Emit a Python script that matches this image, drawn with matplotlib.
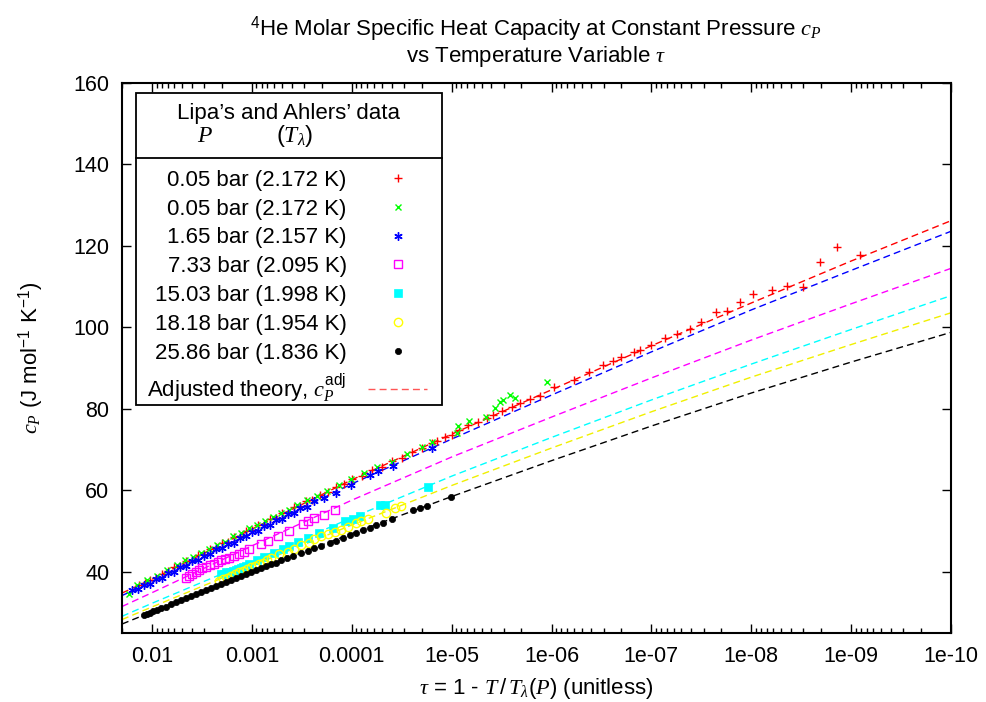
import numpy as np
import matplotlib.pyplot as plt
from matplotlib.lines import Line2D
from matplotlib.patches import Rectangle
from matplotlib.ticker import FixedLocator, LogLocator, FuncFormatter, NullFormatter

plt.rcParams['font.family'] = ['Liberation Sans', 'DejaVu Sans']
plt.rcParams['mathtext.fontset'] = 'custom'
plt.rcParams['mathtext.rm'] = 'Liberation Sans'
plt.rcParams['mathtext.it'] = 'Liberation Serif:italic'
plt.rcParams['mathtext.bf'] = 'Liberation Sans:bold'

# data: x values given as -log10(tau)
red_mlog = [1.87, 1.93, 1.98, 2.04, 2.10, 2.16, 2.22, 2.28, 2.34, 2.40, 2.46, 2.52, 2.58, 2.64, 2.70,
            2.76, 2.82, 2.88, 2.94, 3.00, 3.06, 3.12, 3.18, 3.24, 3.30, 3.36, 3.42, 3.48, 3.54, 3.60,
            3.68, 3.76, 3.84, 3.92, 4.00, 4.10, 4.20, 4.30, 4.40, 4.50, 4.60, 4.70, 4.80, 4.85, 4.93,
            5.00, 5.07, 5.16, 5.26, 5.35, 5.41, 5.50, 5.60, 5.68, 5.78, 5.88, 6.02, 6.22, 6.38, 6.52,
            6.62, 6.70, 6.83, 6.89, 7.00, 7.14, 7.26, 7.39, 7.50, 7.65, 7.76, 7.89, 8.02, 8.21, 8.36,
            8.52, 8.69, 8.86, 9.09]
red_cp = [36.9, 37.3, 38.1, 38.6, 39.6, 40.1, 41.1, 41.5, 42.6, 43.0, 44.1, 44.5, 45.6, 46.0, 47.0,
          47.4, 48.5, 48.9, 50.0, 50.4, 51.5, 51.8, 52.9, 53.3, 54.4, 54.7, 55.9, 56.2, 57.3, 57.6,
          58.9, 59.5, 60.9, 61.5, 62.8, 63.5, 65.0, 65.8, 67.3, 68.0, 69.5, 70.3, 71.6, 72.2, 73.1,
          73.6, 74.9, 76.1, 76.9, 77.7, 78.5, 79.5, 80.5, 81.5, 82.4, 83.2, 85.3, 87.2, 89.1, 90.7,
          91.8, 92.7, 94.0, 94.4, 95.8, 97.4, 98.5, 99.6, 101.3, 103.9, 104.0, 106.3, 108.2, 109.1, 110.2,
          109.9, 116.0, 119.8, 117.8]

green_mlog = [1.77, 1.85, 1.95, 2.05, 2.15, 2.25, 2.33, 2.41, 2.49, 2.57, 2.65, 2.73, 2.81, 2.89,
              2.97, 3.05, 3.13, 3.21, 3.29, 3.37, 3.45, 3.55, 3.65, 3.75, 3.87, 3.99, 4.12, 4.25,
              4.40, 4.55, 4.70, 4.80, 5.05, 5.06, 5.17, 5.34, 5.43, 5.48, 5.51, 5.58, 5.63, 5.95]
green_cp = [34.6, 36.7, 38.0, 39.1, 40.4, 41.6, 42.8, 43.6, 44.7, 45.5, 46.7, 47.4, 48.7, 49.5,
            50.7, 51.5, 52.5, 53.4, 54.5, 55.3, 56.5, 57.6, 58.6, 59.9, 61.3, 62.9, 64.2, 65.7,
            67.0, 69.0, 70.6, 71.8, 74.1, 75.8, 77.1, 77.9, 80.3, 81.8, 82.2, 83.3, 82.7, 86.6]

blue_mlog = [1.80, 1.86, 1.92, 1.98, 2.04, 2.10, 2.16, 2.22, 2.28, 2.34, 2.40, 2.46, 2.52, 2.58,
             2.64, 2.70, 2.76, 2.82, 2.88, 2.94, 3.00, 3.06, 3.12, 3.18, 3.24, 3.30, 3.36, 3.42,
             3.48, 3.55, 3.62, 3.72, 3.84, 3.99, 4.18, 4.26, 4.41, 4.80]
blue_cp = [35.5, 35.8, 36.8, 37.1, 38.2, 38.5, 39.7, 40.0, 41.1, 41.4, 42.6, 42.9, 44.0, 44.3,
           45.5, 45.8, 46.9, 47.2, 48.4, 48.7, 49.8, 50.1, 51.3, 51.5, 52.8, 53.0, 54.2, 54.4,
           55.6, 56.0, 57.3, 58.2, 59.4, 61.4, 63.9, 64.8, 66.1, 70.4]

magenta_mlog = [2.34, 2.37, 2.40, 2.44, 2.47, 2.50, 2.54, 2.58, 2.62, 2.66, 2.69, 2.73, 2.77,
                2.82, 2.87, 2.92, 2.97, 3.09, 3.16, 3.26, 3.37, 3.51, 3.56, 3.62, 3.72, 3.83]
magenta_cp = [38.5, 39.1, 39.6, 40.0, 40.4, 40.9, 41.2, 41.7, 42.0, 42.5, 42.8, 43.2, 43.4,
              44.0, 44.3, 45.0, 45.5, 46.9, 47.6, 48.8, 50.0, 51.7, 52.5, 53.3, 53.9, 55.1]

cyan_mlog = [2.69, 2.72, 2.74, 2.78, 2.81, 2.84, 2.86, 2.89, 2.91, 2.94, 2.97, 3.05, 3.12,
             3.22, 3.31, 3.37, 3.46, 3.56, 3.67, 3.81, 3.93, 4.01, 4.08, 4.28, 4.33, 4.76]
cyan_cp = [39.4, 39.6, 39.9, 40.0, 40.2, 40.5, 40.7, 41.0, 41.1, 41.5, 41.9, 42.8, 43.6,
           44.7, 45.5, 46.4, 47.3, 48.4, 49.5, 50.8, 52.5, 53.1, 53.8, 56.3, 56.5, 60.8]

yellow_mlog = [2.67, 2.71, 2.75, 2.79, 2.83, 2.87, 2.91, 2.95, 2.99, 3.03, 3.07, 3.11, 3.15, 3.19,
               3.27, 3.36, 3.42, 3.49, 3.57, 3.62, 3.69, 3.76, 3.83, 3.89, 3.96, 4.04, 4.09, 4.16,
               4.34, 4.43, 4.49]
yellow_cp = [37.8, 38.3, 38.6, 39.1, 39.4, 39.9, 40.3, 40.6, 41.2, 41.5, 42.0, 42.3, 43.0, 43.4,
             44.3, 44.9, 45.5, 46.5, 47.2, 48.0, 48.8, 49.2, 49.8, 50.4, 51.1, 51.9, 52.6, 53.0,
             54.5, 55.7, 56.1]

black_mlog = [1.92, 1.95, 1.98, 2.01, 2.05, 2.09, 2.14, 2.19, 2.24, 2.29, 2.34, 2.39, 2.44, 2.49,
              2.54, 2.59, 2.64, 2.69, 2.74, 2.79, 2.84, 2.89, 2.94, 2.99, 3.04, 3.09, 3.14, 3.19,
              3.24, 3.29, 3.35, 3.41, 3.49, 3.56, 3.62, 3.69, 3.78, 3.84, 3.91, 3.98, 4.04, 4.11,
              4.18, 4.24, 4.31, 4.40, 4.61, 4.68, 4.75, 4.99]
black_cp = [29.3, 29.6, 29.9, 30.3, 30.6, 31.1, 31.5, 32.1, 32.6, 33.1, 33.6, 34.1, 34.6, 35.1,
            35.6, 36.1, 36.6, 37.1, 37.5, 38.0, 38.5, 39.0, 39.5, 40.0, 40.5, 40.9, 41.4, 41.9,
            42.3, 42.8, 43.3, 43.9, 44.6, 45.1, 45.8, 46.4, 47.0, 47.6, 48.4, 49.0, 49.6, 50.3,
            50.8, 51.4, 51.9, 52.9, 55.1, 55.7, 56.1, 58.3]

# adjusted theory curves, read at these -log10(tau) values
theory_mlog = [1.699, 2, 3, 4, 5, 6, 7, 8, 9, 10]
theory_red = [34.8, 38.2, 50.5, 62.6, 73.8, 84.7, 95.5, 106.0, 116.3, 126.2]
theory_blue = [34.2, 37.5, 49.6, 61.6, 72.6, 83.4, 94.0, 104.3, 114.0, 123.6]
theory_magenta = [31.5, 34.9, 46.4, 57.6, 68.2, 78.0, 87.6, 96.9, 105.8, 114.5]
theory_cyan = [29.1, 32.3, 42.6, 53.3, 63.5, 73.0, 82.2, 91.0, 99.5, 107.8]
theory_yellow = [28.3, 31.4, 41.5, 51.5, 61.2, 70.4, 79.3, 87.8, 95.8, 103.6]
theory_black = [27.2, 30.2, 40.1, 49.4, 58.5, 67.3, 75.8, 83.9, 91.5, 98.8]

labels = ['0.05 bar (2.172 K)', '0.05 bar (2.172 K)', '1.65 bar (2.157 K)', '7.33 bar (2.095 K)',
          '15.03 bar (1.998 K)', '18.18 bar (1.954 K)', '25.86 bar (1.836 K)']

x_ticks = [1e-2, 1e-3, 1e-4, 1e-5, 1e-6, 1e-7, 1e-8, 1e-9, 1e-10]
y_ticks = [40, 60, 80, 100, 120, 140, 160]


def tau(mlog):
    return 10.0 ** (-np.array(mlog))


fig = plt.figure(figsize=(9.87, 7.02), dpi=100)
ax = fig.add_axes([122 / 987, 1 - 633 / 702, 829 / 987, 550 / 702])

series = [
    (red_mlog, red_cp, dict(marker='+', color='red', ms=5.5, mew=1.0, mfc='none')),
    (green_mlog, green_cp, dict(marker='x', color='#00ff00', ms=5, mew=1.0, mfc='none')),
    (blue_mlog, blue_cp, dict(marker=(6, 2, 0), color='blue', ms=6, mew=1.0)),
    (magenta_mlog, magenta_cp, dict(marker='s', color='magenta', ms=5.5, mew=1.0, mfc='none')),
    (cyan_mlog, cyan_cp, dict(marker='s', color='cyan', ms=5.5, mew=0.5)),
    (yellow_mlog, yellow_cp, dict(marker='o', color='yellow', ms=6, mew=1.0, mfc='none')),
    (black_mlog, black_cp, dict(marker='o', color='black', ms=4.5, mew=0.5)),
]
handles = []
for (xm, cp, style) in series:
    ax.plot(tau(xm), cp, ls='none', zorder=3, **style)
    handles.append(Line2D([], [], ls='none', **style))

theory = [(theory_red, 'red'), (theory_blue, 'blue'), (theory_magenta, 'magenta'),
          (theory_cyan, 'cyan'), (theory_yellow, '#f0f000'), (theory_black, 'black')]
for vals, col in theory:
    ax.plot(tau(theory_mlog), vals, color=col, lw=1.0, ls=(0, (5, 3)), zorder=2)
handles.append(Line2D([], [], color='#ff5555', lw=1.0, ls=(0, (5, 3))))
labels_all = labels + [r'Adjusted theory, $c_P^{\mathrm{adj}}$']

ax.set_xscale('log')
ax.set_xlim(0.02, 1e-10)
ax.set_ylim(25, 160)
ax.xaxis.set_major_locator(FixedLocator(x_ticks))
ax.xaxis.set_major_formatter(FuncFormatter(lambda v, p: '%g' % v))
ax.xaxis.set_minor_locator(LogLocator(base=10, subs=range(2, 10), numticks=30))
ax.xaxis.set_minor_formatter(NullFormatter())
ax.set_yticks(y_ticks)
ax.tick_params(which='both', direction='in', top=True, right=True, labelsize=15.5)
ax.tick_params(which='major', length=6.5, width=1.0)
ax.tick_params(axis='x', which='major', pad=9)
ax.tick_params(axis='y', which='major', pad=9)
ax.tick_params(which='minor', length=3.5, width=1.0)
for sp in ax.spines.values():
    sp.set_linewidth(1.5)

ax.set_xlabel(r'$\tau$ = $\mathit{1}$ - $T\,/\,T_\lambda(P)$ (unitless)', fontsize=16, labelpad=7)
ax.set_ylabel(r'$c_P$ (J mol$^{-1}$ K$^{-1}$)', fontsize=16, labelpad=20)
fig.text(536 / 987, 1 - 42 / 702,
         r'$^4$He Molar Specific Heat Capacity at Constant Pressure $c_P$' + '\n' +
         r'vs Temperature Variable $\tau$',
         ha='center', va='center', fontsize=16, linespacing=1.0)

# legend box in gnuplot style
ax.add_patch(Rectangle((0.0165, 0.4145), 0.3691, 0.5667, transform=ax.transAxes,
                       facecolor='white', edgecolor='black', lw=1.3, zorder=4))
ax.add_line(Line2D([0.0165, 0.3856], [0.8642, 0.8642], transform=ax.transAxes,
                   color='black', lw=1.3, zorder=4.5))
ax.text(0.2008, 0.9449, 'Lipa\u2019s and Ahlers\u2019 data', transform=ax.transAxes,
        ha='center', va='center', fontsize=16, zorder=5)
ax.text(0.1001, 0.9036, '$P$', transform=ax.transAxes, ha='center', va='center', fontsize=17, zorder=5)
ax.text(0.2087, 0.9036, r'$(T_\lambda)$', transform=ax.transAxes, ha='center', va='center',
        fontsize=17, zorder=5)
leg = ax.legend(handles, labels_all, markerfirst=False, frameon=False, loc='upper right',
                bbox_to_anchor=(0.3683, 0.842), borderaxespad=0, borderpad=0,
                handlelength=2.66, handletextpad=0.97, labelspacing=0.35, fontsize=16)
leg.set_zorder(6)

fig.savefig('out.png', dpi=100)
